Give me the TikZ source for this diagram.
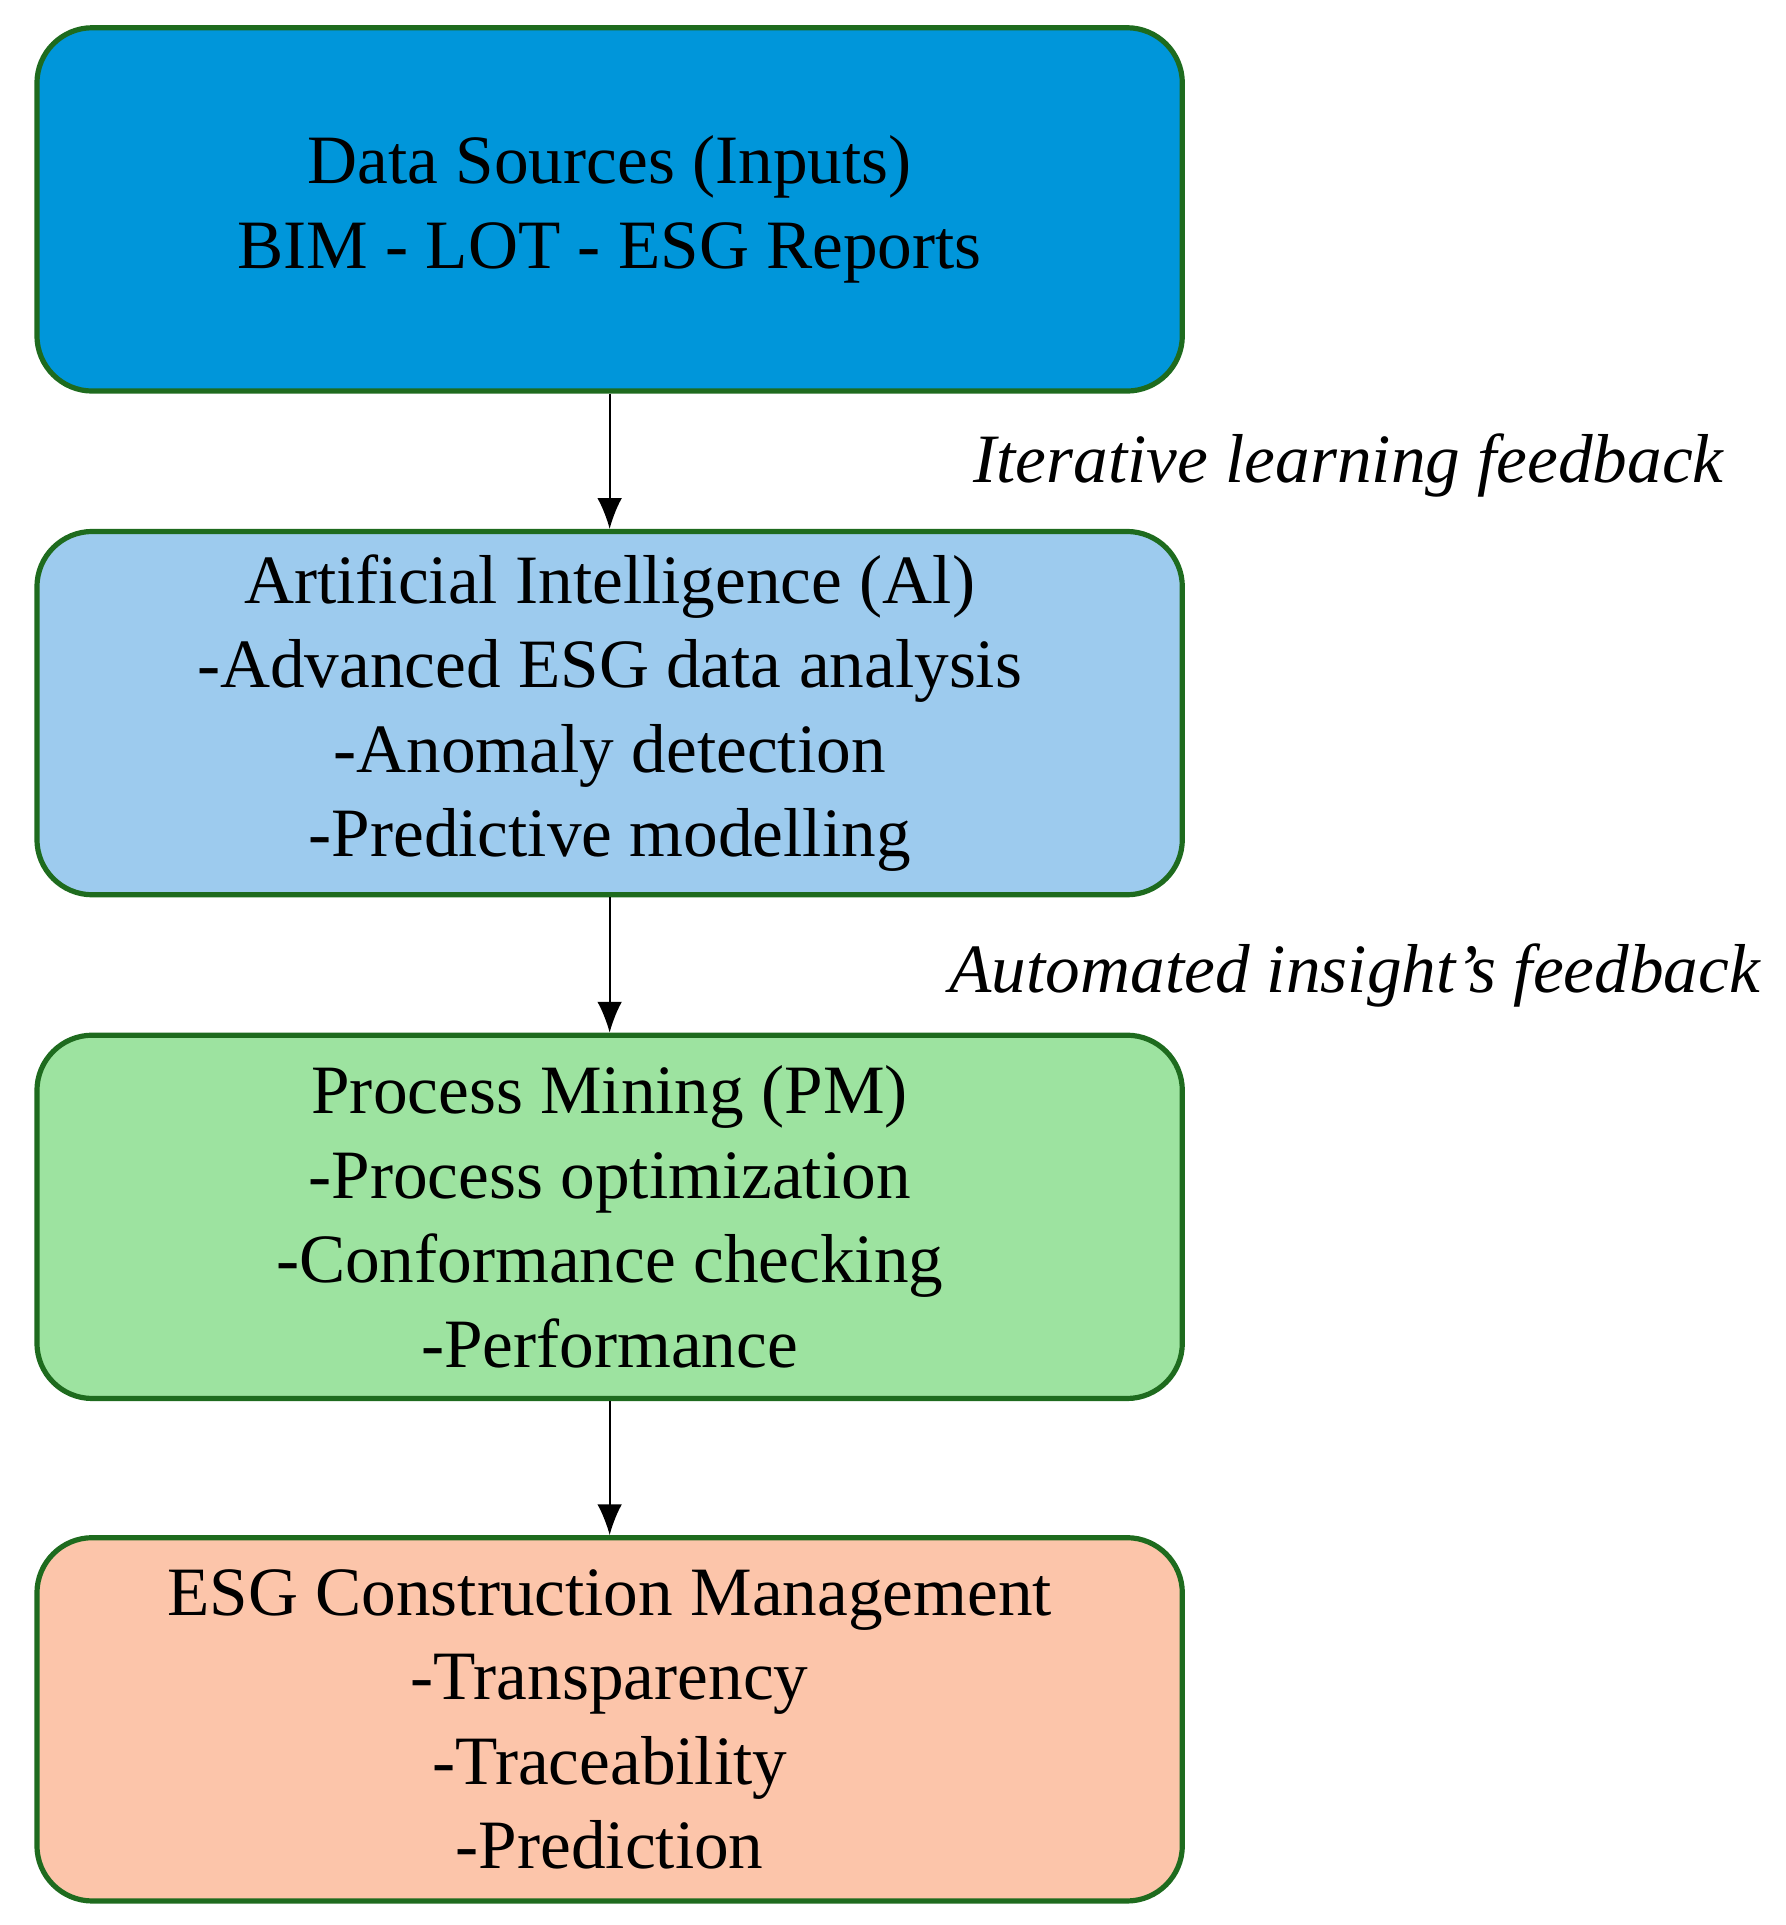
\documentclass[tikz,border=0pt]{standalone}
\usepackage{fontspec}
\setmainfont{Liberation Serif}
\usetikzlibrary{arrows.meta}
\definecolor{srcblue}{HTML}{0096DA}
\definecolor{aiblue}{HTML}{9DCBEE}
\definecolor{pmgreen}{HTML}{9DE3A0}
\definecolor{esgpeach}{HTML}{FCC5AA}
\definecolor{edgegreen}{HTML}{1E6B1E}
\tikzset{%
	>={Latex[width=2mm,length=2.5mm]},
	% Specifications for style of nodes:
	base/.style = {rectangle, rounded corners=0.45cm, draw=edgegreen, line width=1.2pt,
		minimum width=9.3cm, minimum height=2.95cm,
		text centered, align=center, font=\fontsize{16}{19.5}\selectfont},
	sources/.style = {base, fill=srcblue},
	ai/.style = {base, fill=aiblue},
	pm/.style = {base, fill=pmgreen},
	esg/.style = {base, fill=esgpeach},
	note/.style = {font=\fontsize{16}{19.5}\selectfont\itshape}
}
\begin{document}
\begin{tikzpicture}
	\useasboundingbox (0,0) rectangle (14.5,-15.63);
	% Specification of nodes (position, etc.)
	\node (sources) [sources] at (4.95,-1.70) {Data Sources (Inputs)\\BIM - LOT - ESG Reports};
	\node (ai)      [ai]      at (4.95,-5.79) {Artificial Intelligence (Al)\\-Advanced ESG data analysis\\-Anomaly detection\\-Predictive modelling};
	\node (pm)      [pm]      at (4.95,-9.88) {Process Mining (PM)\\-Process optimization\\-Conformance checking\\-Performance};
	\node (esg)     [esg]     at (4.95,-13.96) {ESG Construction Management\\-Transparency\\-Traceability\\-Prediction};
	\node (learn)   [note]    at (10.95,-3.78) {Iterative learning feedback};
	\node (insight) [note]    at (11.00,-7.92) {Automated insight's feedback};

	\draw[->] (sources) -- (ai);
	\draw[->] (ai) -- (pm);
	\draw[->] (pm) -- (esg);
\end{tikzpicture}
\end{document}
